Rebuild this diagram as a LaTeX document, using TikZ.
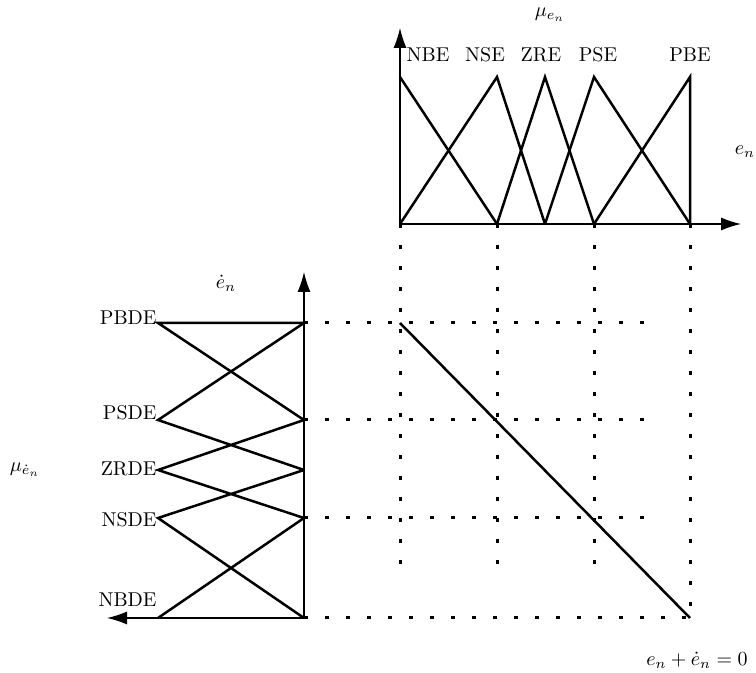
\documentclass[tikz,border=0pt]{standalone}
\usetikzlibrary{arrows.meta}
\begin{document}
\begin{tikzpicture}[x=0.5pt,y=-0.5pt,
  mf/.style={line width=1.25pt, line join=miter},
  axisline/.style={line width=0.6pt, -{Latex[length=10pt,width=6.5pt]}},
  dotline/.style={line width=1.5pt, dash pattern=on 2pt off 8.5pt},
  lab/.style={inner sep=0pt}]
\useasboundingbox (0,0) rectangle (756,673);
% ---- top chart coordinates
\coordinate (tO) at (400,224);
\coordinate (tB) at (497,224);
\coordinate (tC) at (545,224);
\coordinate (tD) at (594,224);
\coordinate (tE) at (690,224);
\coordinate (pA) at (400,77);
\coordinate (pB) at (497,77);
\coordinate (pC) at (545,77);
\coordinate (pD) at (594,77);
\coordinate (pE) at (690,77);
\coordinate (tUp) at (400,28);
\coordinate (tRight) at (741,224);
% ---- left chart coordinates
\coordinate (lO) at (304,618);
\coordinate (l1) at (304,323);
\coordinate (l2) at (304,420);
\coordinate (l3) at (304,470);
\coordinate (l4) at (304,518);
\coordinate (q1) at (158,323);
\coordinate (q2) at (158,420);
\coordinate (q3) at (158,470);
\coordinate (q4) at (158,518);
\coordinate (q5) at (158,618);
\coordinate (lUp) at (304,272);
\coordinate (lLeft) at (107,618);
% ---- dotted ends
\coordinate (h1) at (644,323);
\coordinate (h2) at (644,420);
\coordinate (h4) at (644,518);
\coordinate (hEnd) at (690,618);
\coordinate (vA) at (400,570);
\coordinate (vB) at (497,570);
\coordinate (vD) at (594,570);
\coordinate (dStart) at (400,323);
% ---- dotted grid
\draw[dotline] (l1) -- (h1);
\draw[dotline] (l2) -- (h2);
\draw[dotline] (l4) -- (h4);
\draw[dotline] (lO) -- (hEnd);
\draw[dotline] (tO) -- (vA);
\draw[dotline] (tB) -- (vB);
\draw[dotline] (tD) -- (vD);
\draw[dotline] (tE) -- (hEnd);
% ---- top membership functions
\draw[mf] (pA) -- (tB);
\draw[mf] (tO) -- (pB) -- (tC);
\draw[mf] (tB) -- (pC) -- (tD);
\draw[mf] (tC) -- (pD) -- (tE);
\draw[mf] (tD) -- (pE) -- (tE);
\draw[axisline] (tO) -- (tUp);
\draw[axisline] (tO) -- (tRight);
% ---- left membership functions
\draw[mf] (l1) -- (q1) -- (l2);
\draw[mf] (l1) -- (q2) -- (l3);
\draw[mf] (l2) -- (q3) -- (l4);
\draw[mf] (l3) -- (q4) -- (lO);
\draw[mf] (l4) -- (q5);
\draw[axisline] (lO) -- (lUp);
\draw[axisline] (lO) -- (lLeft);
% ---- diagonal
\draw[mf] (dStart) -- (hEnd);
% ---- labels
\node[lab] (nbe) at (428,55) {NBE};
\node[lab] (nse) at (485,55) {NSE};
\node[lab] (zre) at (541,55) {ZRE};
\node[lab] (pse) at (598,55) {PSE};
\node[lab] (pbe) at (690,55) {PBE};
\node[lab] (mue) at (550,15) {$\mu_{e_n}$};
\node[lab] (en) at (745,152) {$e_n$};
\node[lab] (edot) at (226,283) {$\dot e_n$};
\node[lab] (mued) at (25,470) {$\mu_{\dot e_n}$};
\node[lab] (eq) at (697,660) {$e_n+\dot e_n=0$};
\node[lab,anchor=east] (pbde) at (157,318) {PBDE};
\node[lab,anchor=east] (psde) at (157,413) {PSDE};
\node[lab,anchor=east] (zrde) at (157,469) {ZRDE};
\node[lab,anchor=east] (nsde) at (157,520) {NSDE};
\node[lab,anchor=east] (nbde) at (157,600) {NBDE};
\end{tikzpicture}
\end{document}
